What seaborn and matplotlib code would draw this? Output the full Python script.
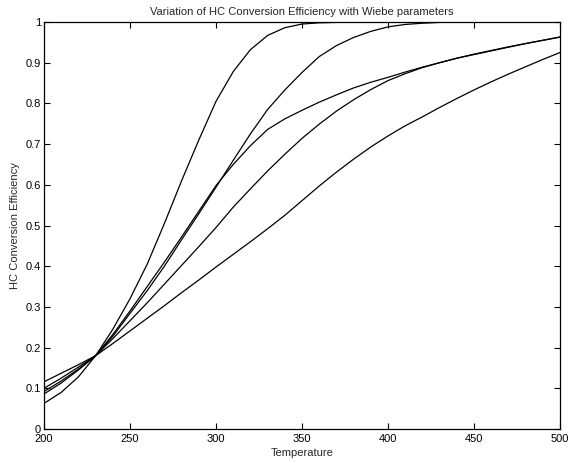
import matplotlib
matplotlib.use("Agg")
import matplotlib.pyplot as plt
import seaborn as sns
import pandas as pd
import numpy as np

temperature = list(range(200, 501, 10))

curve_a = [0.063, 0.090, 0.128, 0.180, 0.245, 0.320, 0.405, 0.505, 0.610, 0.710,
           0.805, 0.878, 0.932, 0.967, 0.986, 0.995, 0.998, 0.999, 1.0, 1.0,
           1.0, 1.0, 1.0, 1.0, 1.0, 1.0, 1.0, 1.0, 1.0, 1.0, 1.0]
curve_b = [0.092, 0.118, 0.147, 0.180, 0.228, 0.284, 0.340, 0.400, 0.465, 0.529,
           0.594, 0.660, 0.725, 0.785, 0.833, 0.876, 0.915, 0.942, 0.962, 0.977,
           0.988, 0.994, 0.997, 0.999, 1.0, 1.0, 1.0, 1.0, 1.0, 1.0, 1.0]
curve_c = [0.086, 0.113, 0.145, 0.180, 0.232, 0.290, 0.350, 0.410, 0.472, 0.535,
           0.598, 0.650, 0.696, 0.736, 0.762, 0.783, 0.803, 0.821, 0.838, 0.852,
           0.864, 0.877, 0.889, 0.900, 0.911, 0.920, 0.929, 0.938, 0.947, 0.955, 0.963]
curve_d = [0.100, 0.125, 0.152, 0.180, 0.222, 0.266, 0.310, 0.356, 0.402, 0.448,
           0.495, 0.545, 0.590, 0.634, 0.675, 0.714, 0.749, 0.781, 0.809, 0.834,
           0.856, 0.873, 0.888, 0.900, 0.911, 0.921, 0.930, 0.939, 0.947, 0.955, 0.963]
curve_e = [0.116, 0.137, 0.158, 0.180, 0.210, 0.241, 0.272, 0.303, 0.335, 0.366,
           0.398, 0.429, 0.460, 0.492, 0.525, 0.561, 0.597, 0.631, 0.663, 0.693,
           0.720, 0.745, 0.767, 0.790, 0.812, 0.833, 0.853, 0.872, 0.890, 0.908, 0.925]

curves = {"A": curve_a, "B": curve_b, "C": curve_c, "D": curve_d, "E": curve_e}
df = pd.concat([pd.DataFrame({"Temperature": temperature, "eff": v, "curve": k})
                for k, v in curves.items()], ignore_index=True)

sns.set_style("white")
plt.rcParams['font.family'] = ['Liberation Sans', 'DejaVu Sans']

fig = plt.figure(figsize=(5.70, 4.63), dpi=100)
ax = fig.add_axes([44/570, 34/463, 516/570, 407/463])

sns.lineplot(data=df, x="Temperature", y="eff", units="curve", estimator=None,
             color="black", linewidth=0.9, ax=ax, legend=False)

ax.set_xlim(200, 500)
ax.set_ylim(0, 1)
ax.set_xticks([200, 250, 300, 350, 400, 450, 500])
ax.set_yticks([0, 0.1, 0.2, 0.3, 0.4, 0.5, 0.6, 0.7, 0.8, 0.9, 1])
ax.set_yticklabels(["0", "0.1", "0.2", "0.3", "0.4", "0.5", "0.6", "0.7", "0.8", "0.9", "1"])
ax.tick_params(direction="in", length=4, width=0.8, labelsize=8, colors="black",
               top=True, right=True, bottom=True, left=True, pad=2)
ax.tick_params(axis="x", pad=3.5)
for s in ax.spines.values():
    s.set_visible(True)
    s.set_color("black")
    s.set_linewidth(0.9)

ax.set_title("Variation of HC Conversion Efficiency with Wiebe parameters", fontsize=8, pad=5)
ax.set_xlabel("Temperature", fontsize=8, labelpad=3)
ax.set_ylabel("HC Conversion Efficiency", fontsize=8, labelpad=4)

fig.savefig("out.png", dpi=100, facecolor="white")
